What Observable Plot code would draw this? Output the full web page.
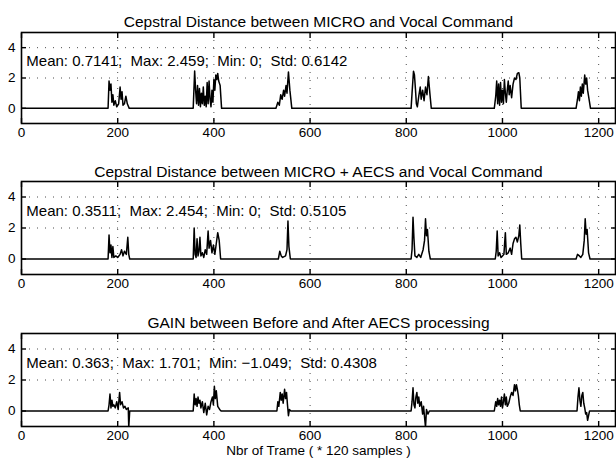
<!DOCTYPE html>
<html>
<head>
<meta charset="utf-8">
<script src="https://cdn.jsdelivr.net/npm/d3@7"></script>
<script src="https://cdn.jsdelivr.net/npm/@observablehq/plot@0.6"></script>
<style>
  html, body { margin: 0; padding: 0; background: #fff; }
  #chart svg { display: block; }
  #chart text { white-space: pre; }
</style>
</head>
<body>
<div id="chart"></div>
<script>
// ---------- data ----------
const xTicks = [0, 200, 400, 600, 800, 1000, 1200];
const yTicks = [0, 2, 4];
const xGrid = [200, 400, 600, 800, 1000, 1200];
const yGrid = [2, 4];

const titles = [
  "Cepstral Distance between MICRO and Vocal Command",
  "Cepstral Distance between MICRO + AECS and Vocal Command",
  "GAIN between Before and After AECS processing"
];
const stats = [
  "Mean: 0.7141;\u00a0 Max: 2.459;\u00a0 Min: 0;\u00a0 Std: 0.6142",
  "Mean: 0.3511;\u00a0 Max: 2.454;\u00a0 Min: 0;\u00a0 Std: 0.5105",
  "Mean: 0.363;\u00a0 Max: 1.701;\u00a0 Min: \u22121.049;\u00a0 Std: 0.4308"
];
const xLabel = "Nbr of Trame ( * 120 samples )";

// series 1: cepstral distance MICRO vs command (frame, value)
const micro = [
  [0,0],[180,0],[182,1.8],[184,1.2],[186,1.6],[188,0.4],[190,0.9],[192,0.2],[195,0.5],[198,0.1],[202,0.3],
  [205,1.4],[207,0.6],[209,1.1],[211,0.2],[214,0.3],[217,0.8],[220,0.3],[224,0],
  [357,0],[360,2.46],[362,1.2],[364,0.3],[366,1.5],[368,0.2],[370,1.3],[372,0.1],[374,1.0],[376,0.3],
  [378,1.4],[380,0.2],[382,0.8],[384,0.1],[386,1.7],[388,0.3],[390,1.8],[392,0.6],[394,0.1],[396,1.2],
  [398,0.4],[400,1.9],[402,1.2],[404,2.2],[406,1.9],[408,2.3],[410,1.8],[413,1.5],[416,0],
  [529,0],[533,0.4],[536,0.2],[539,0.9],[542,0.6],[545,1.2],[547,0.8],[550,1.5],[552,1.0],[555,2.4],[558,1.2],[562,0],
  [810,0],[812,1.0],[815,2.45],[817,2.2],[819,1.3],[821,0.3],[823,0.1],[826,0.8],[829,1.4],[831,0.6],
  [834,1.2],[837,0.5],[840,1.4],[843,0.9],[846,2.1],[849,1.0],[852,0],
  [983,0],[986,0.8],[988,1.8],[990,0.3],[992,1.6],[994,0.2],[996,1.7],[998,0.4],[1000,1.2],[1002,0.3],
  [1004,1.9],[1006,1.0],[1008,0.4],[1010,1.2],[1012,1.8],[1014,0.9],[1016,1.5],[1019,0.7],[1022,1.6],
  [1025,2.0],[1028,1.9],[1031,2.3],[1034,2.35],[1036,2.0],[1039,0],
  [1153,0],[1156,0.6],[1158,1.1],[1160,0.5],[1162,1.4],[1164,0.8],[1166,1.6],[1168,1.0],[1171,2.2],
  [1173,1.6],[1175,2.0],[1177,1.2],[1180,0.6],[1183,0],[1235,0]
];

// series 2: cepstral distance MICRO + AECS vs command
const microAecs = [
  [0,0],[180,0],[182,1.55],[184,0.4],[186,0.9],[188,0.1],[190,0.8],[192,0.1],[196,0.2],[200,0.1],
  [205,0.3],[208,0.6],[211,0.2],[214,0.5],[218,0.3],[221,1.4],[223,0.3],[225,0],
  [357,0],[359,2.0],[361,0.3],[363,0.1],[365,1.3],[367,0.2],[369,0.5],[371,1.4],[373,0.2],[376,0.4],
  [379,0.1],[382,0.6],[385,0.3],[388,1.8],[390,0.7],[393,1.2],[396,0.4],[399,0.9],[402,0.3],[405,1.0],
  [408,1.7],[411,1.2],[414,0],
  [534,0],[537,0.5],[540,0.2],[543,0.1],[549,0.2],[552,0.6],[554,2.45],[556,0.8],[559,0],
  [810,0],[812,0.6],[814,2.7],[816,1.3],[818,0.2],[822,0.1],[826,0.3],[830,0.1],[835,0.6],[838,1.2],
  [840,2.6],[842,1.5],[844,1.9],[847,0.5],[850,0],
  [985,0],[987,0.5],[989,1.8],[991,0.2],[994,0.4],[997,0.1],[1000,0.2],[1003,0.3],[1006,1.7],[1008,0.3],
  [1012,0.4],[1016,0.7],[1019,0.3],[1022,1.0],[1025,1.3],[1028,1.4],[1031,1.1],[1034,1.5],[1036,2.2],[1038,1.0],[1040,0],
  [1153,0],[1156,0.3],[1160,0.2],[1163,0.1],[1167,0.3],[1170,1.2],[1172,2.6],[1174,1.6],[1176,1.9],[1179,0.4],[1182,0],
  [1235,0]
];

// series 3: gain before / after AECS
const gain = [
  [0,0],[180,0],[182,0.4],[184,1.1],[186,0.2],[188,0.7],[190,0.3],[192,0.4],[195,0.2],[198,0.6],[201,0.1],
  [204,1.2],[206,0.4],[209,0.6],[212,0.2],[215,0.3],[218,0.1],[222,0.2],[223,-1.05],[225,0],
  [357,0],[359,1.1],[361,0.4],[363,0.8],[365,0.3],[367,0.9],[369,0.5],[371,0.7],[373,0.2],[376,0.6],
  [379,-0.1],[382,0.5],[385,-0.25],[388,0.3],[391,0.1],[394,0.6],[397,0.9],[399,0.4],[401,1.6],[403,0.8],
  [405,1.3],[408,0.3],[412,0.1],[415,0],
  [531,0],[533,0.6],[535,0.3],[538,1.2],[540,0.7],[542,1.1],[544,0.5],[547,1.4],[549,0.8],[551,1.2],[553,0.4],
  [555,-0.3],[557,0.1],[560,0],
  [810,0],[812,0.6],[814,1.5],[816,0.4],[818,0.2],[820,0.9],[822,1.2],[824,0.5],[826,0.9],[828,0.3],
  [831,0.6],[834,-0.2],[836,0.3],[838,-0.4],[840,-1.05],[842,0.1],[845,-0.2],[848,0],
  [983,0],[986,0.6],[988,0.3],[990,0.8],[992,0.4],[994,0.7],[996,0.3],[998,0.9],[1000,0.2],[1002,0.6],
  [1004,1.1],[1006,0.4],[1008,0.9],[1010,0.3],[1013,0.5],[1016,0.9],[1019,1.2],[1022,1.0],[1025,1.7],
  [1027,1.3],[1029,1.7],[1031,1.4],[1033,1.0],[1035,0.4],[1037,0],
  [1155,0],[1157,0.9],[1159,1.5],[1161,0.7],[1163,0.3],[1165,1.0],[1167,1.2],[1169,0.5],[1171,0.2],
  [1173,-0.2],[1175,-0.1],[1177,-0.6],[1179,-0.3],[1181,0],[1235,0]
];

// ---------- drawing ----------
const font = "'Liberation Sans', Arial, Helvetica, sans-serif";
const fmt = d => String(d);
const blank = () => "";

function panel(series, title, stat, cfg) {
  const data = series.map(([x, y]) => ({x, y}));
  const tickOpts = {tickSize: -5, tickFormat: blank, label: null, strokeWidth: 1.4};
  const marks = [
    Plot.ruleX(xGrid, {stroke: "black", strokeWidth: 1, strokeDasharray: "1,7", strokeOpacity: 0.7}),
    Plot.ruleY(yGrid, {stroke: "black", strokeWidth: 1, strokeDasharray: "1,7", strokeOpacity: 0.7}),
    Plot.line(data, {x: "x", y: "y", stroke: "black", strokeWidth: 1.5, clip: true}),
    Plot.frame({stroke: "black", strokeWidth: 1.6}),
    Plot.axisX(xTicks, {anchor: "bottom", ...tickOpts}),
    Plot.axisX(xTicks, {anchor: "top", ...tickOpts}),
    Plot.axisY(yTicks, {anchor: "left", ...tickOpts}),
    Plot.axisY(yTicks, {anchor: "right", ...tickOpts}),
    Plot.axisX(xTicks, {anchor: "bottom", tickSize: 0, tickPadding: 4, label: null, tickFormat: fmt, fontSize: 13.5}),
    Plot.axisY(yTicks, {anchor: "left", tickSize: 0, tickPadding: 6, label: null, tickFormat: fmt, fontSize: 13.5}),
    Plot.text([title], {frameAnchor: "top", dy: cfg.titleDy, fontSize: 15.5, fill: "black"}),
    Plot.text([stat], {x: () => 10, y: () => 3.1, textAnchor: "start", fontSize: 15, fill: "black"})
  ];
  if (cfg.xLabel) {
    marks.push(Plot.text([cfg.xLabel], {frameAnchor: "bottom", dy: 28, fontSize: 13.5, fill: "black"}));
  }
  return Plot.plot({
    width: 616,
    height: cfg.height,
    marginLeft: 21,
    marginRight: 1,
    marginTop: cfg.top,
    marginBottom: cfg.bottom,
    x: {domain: [0, 1235], axis: null},
    y: {domain: [-1, 5], axis: null},
    style: {fontFamily: font, background: "white", color: "black", overflow: "visible"},
    marks
  });
}

const root = document.getElementById("chart");
root.append(panel(micro, titles[0], stats[0], {height: 150, top: 32, bottom: 27, titleDy: -17}));
root.append(panel(microAecs, titles[1], stats[1], {height: 150, top: 31, bottom: 26, titleDy: -16}));
root.append(panel(gain, titles[2], stats[2], {height: 162, top: 33, bottom: 36, titleDy: -17, xLabel: xLabel}));
</script>
</body>
</html>
